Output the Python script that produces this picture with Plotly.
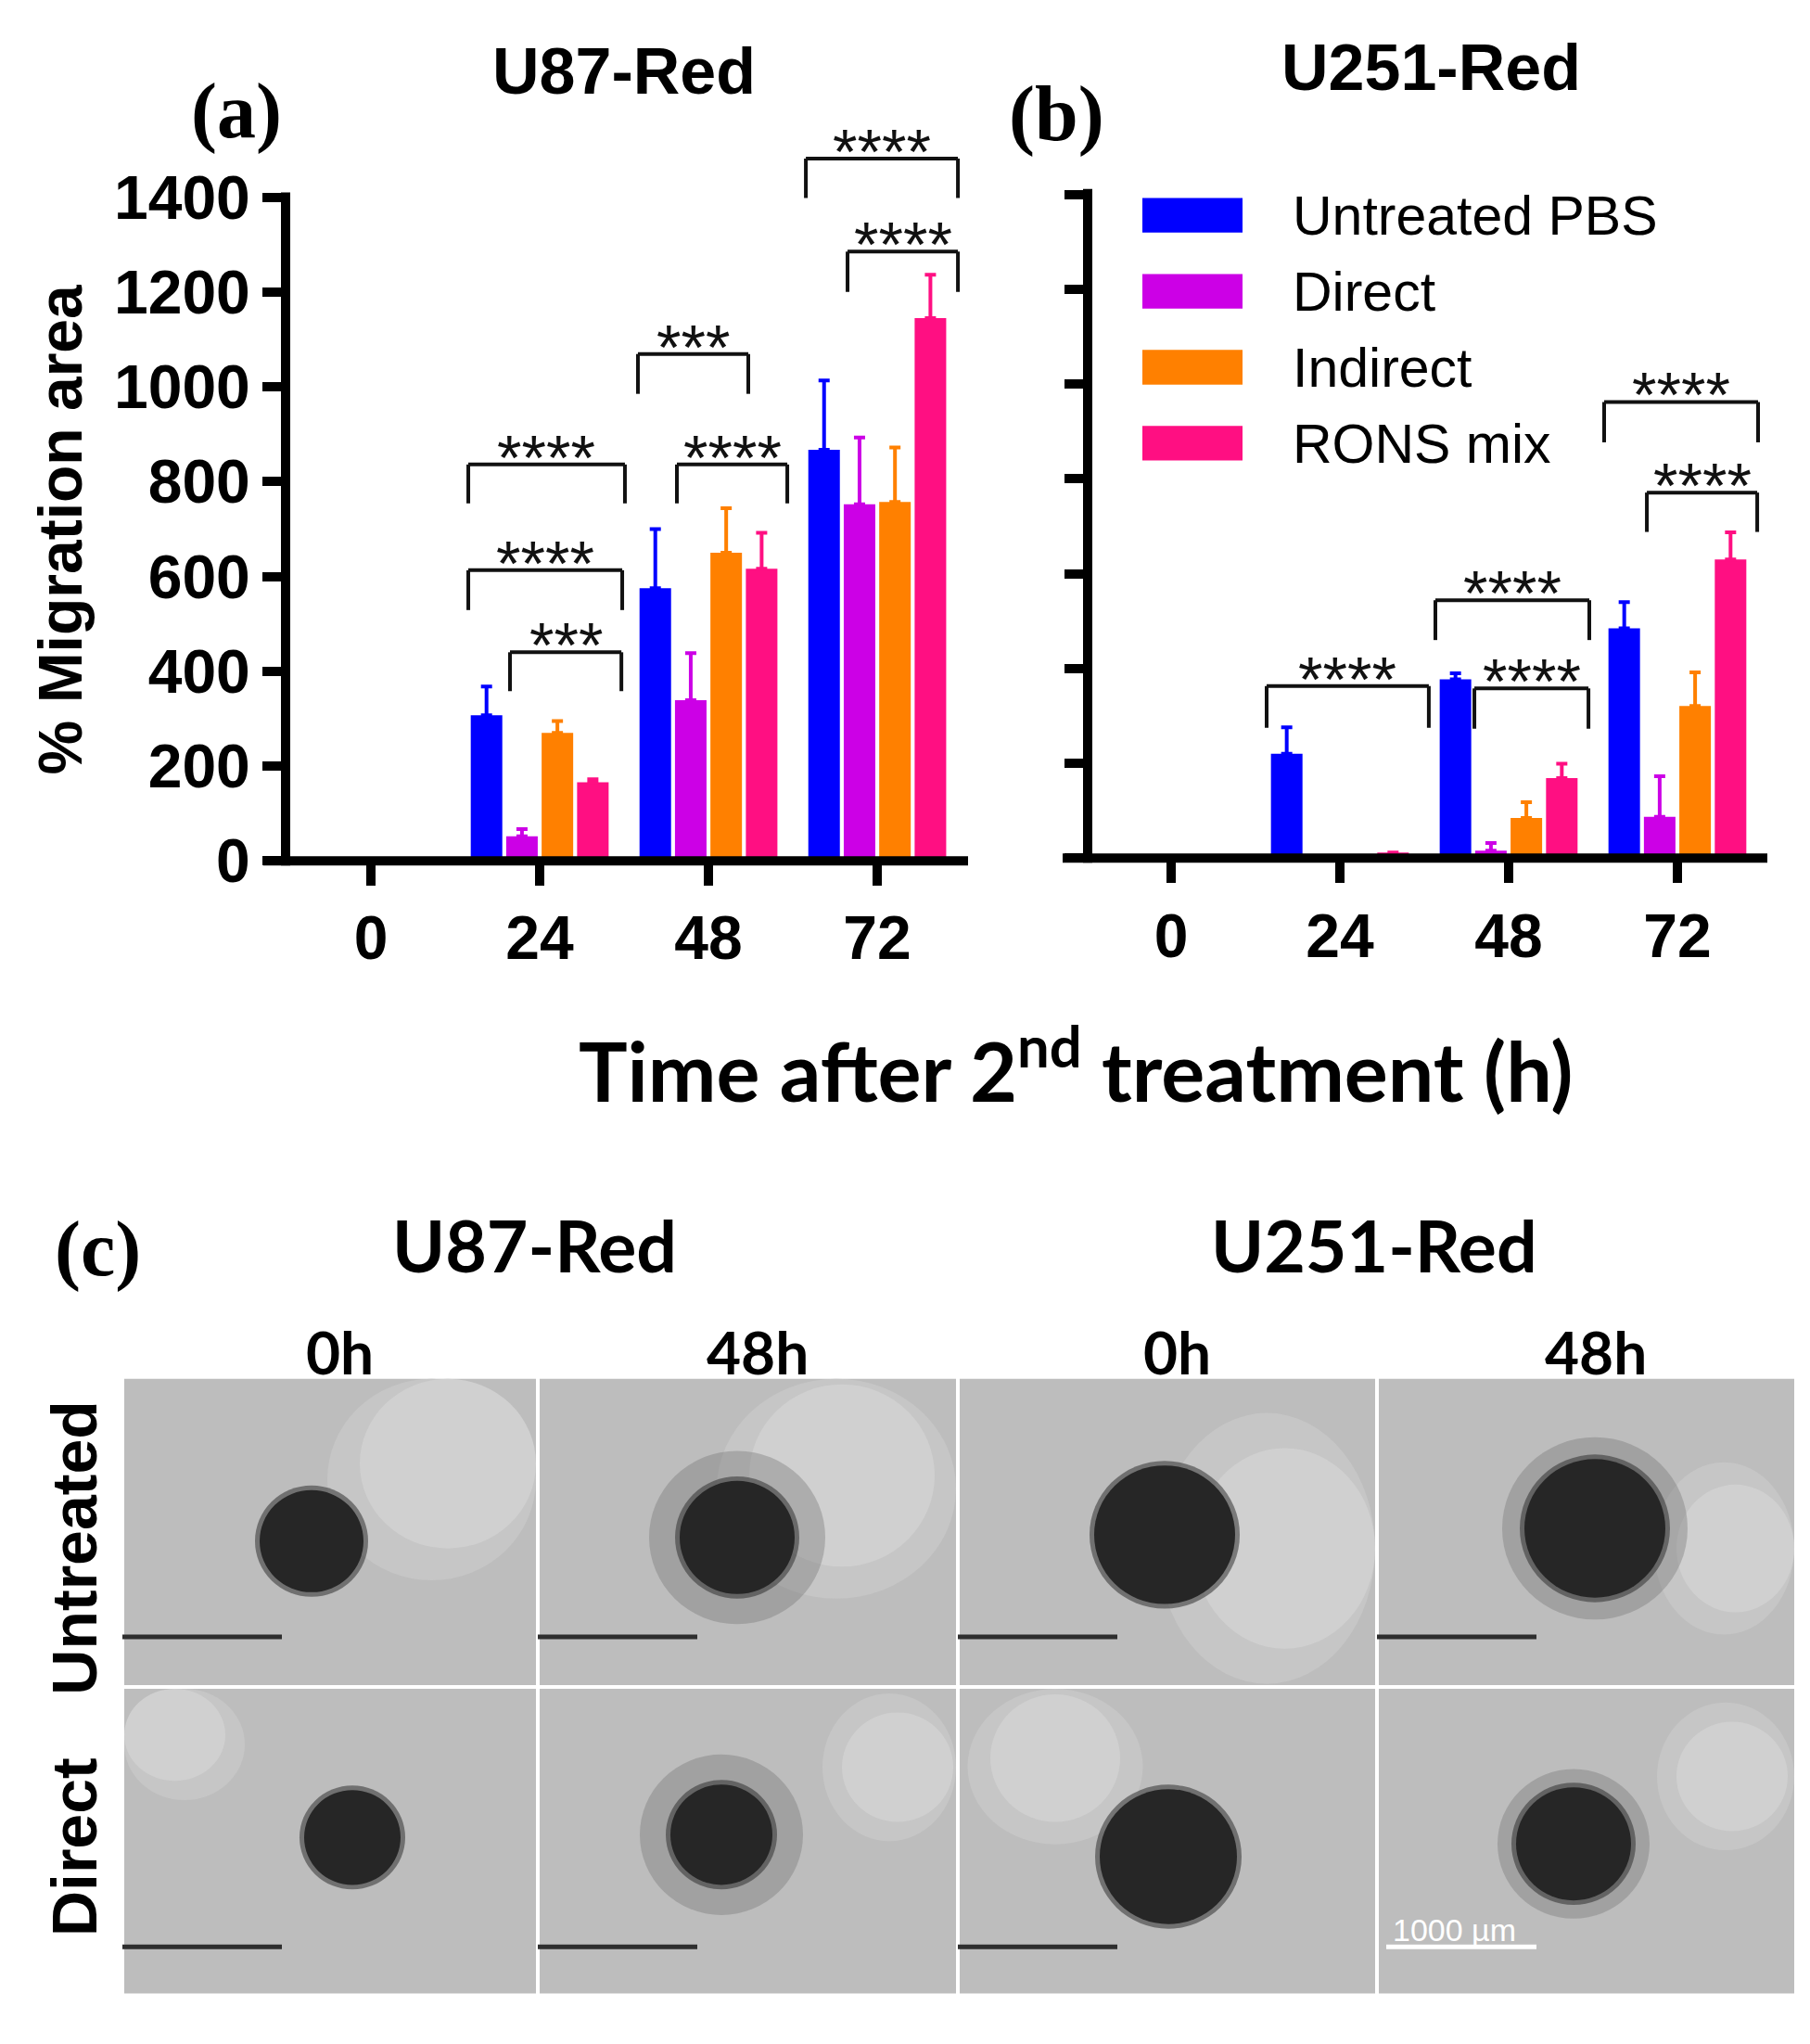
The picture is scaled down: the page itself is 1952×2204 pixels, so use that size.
import plotly.graph_objects as go

W, H = 1952, 2204

# ---- data ----
time_labels = ["0", "24", "48", "72"]
groups = ["Untreated PBS", "Direct", "Indirect", "RONS mix"]
colors = ["#0000ff", "#cc00e6", "#ff8000", "#ff0f82"]

# panel (a) U87-Red: mean and upper SD
u87_mean = {
    "Untreated PBS": [0, 307, 575, 867],
    "Direct": [0, 52, 339, 752],
    "Indirect": [0, 270, 650, 757],
    "RONS mix": [0, 166, 616, 1145],
}
u87_sd = {
    "Untreated PBS": [0, 61, 125, 146],
    "Direct": [0, 15, 99, 141],
    "Indirect": [0, 25, 94, 115],
    "RONS mix": [0, 6, 76, 91],
}
# panel (b) U251-Red
u251_mean = {
    "Untreated PBS": [0, 220, 377, 485],
    "Direct": [0, 2, 16, 87],
    "Indirect": [0, 1, 85, 321],
    "RONS mix": [0, 12, 169, 630],
}
u251_sd = {
    "Untreated PBS": [0, 56, 13, 55],
    "Direct": [0, 0, 16, 86],
    "Indirect": [0, 0, 33, 71],
    "RONS mix": [0, 0, 30, 57],
}

# significance brackets: (x_left, x_right, y_top, y_leg_bottom, label)
u87_brackets = [
    (0.577, 1.505, 836, 754, "****"),
    (0.577, 1.489, 613, 529, "****"),
    (0.824, 1.484, 440, 358, "***"),
    (1.582, 2.236, 1069, 985, "***"),
    (1.813, 2.467, 836, 754, "****"),
    (2.577, 3.478, 1481, 1398, "****"),
    (2.824, 3.478, 1285, 1200, "****"),
]
u251_brackets = [
    (0.566, 1.527, 363, 275, "****"),
    (1.566, 2.478, 544, 460, "****"),
    (1.797, 2.473, 358, 273, "****"),
    (2.566, 3.478, 962, 877, "****"),
    (2.819, 3.473, 771, 688, "****"),
]

y_ticks = [0, 200, 400, 600, 800, 1000, 1200, 1400]


def px(x):
    return x / W


def py(y):
    return 1 - y / H


ARIAL = "Liberation Sans, Arial"
SERIF = "Liberation Serif, Times New Roman"
fig = go.Figure()

xs = list(range(len(time_labels)))
for k, (name, col) in enumerate(zip(groups, colors)):
    for mean, sd, xa, ya in [(u87_mean, u87_sd, "x", "y"), (u251_mean, u251_sd, "x2", "y2")]:
        fig.add_trace(go.Bar(
            x=xs, y=mean[name], name=name, marker_color=col, marker_line_width=0,
            error_y=dict(type="data", array=sd[name], arrayminus=[0] * 4, symmetric=False,
                         color=col, thickness=4, width=6),
            xaxis=xa, yaxis=ya, showlegend=False, offsetgroup=str(k),
        ))

axis_common = dict(showgrid=False, zeroline=False, showline=False, ticks="outside",
                   tickcolor="black", tickwidth=10)
xcommon = dict(axis_common, tickvals=xs, ticktext=time_labels, ticklen=26,
               tickfont=dict(family=ARIAL, size=66, color="black", weight="bold"))
ycommon = dict(axis_common, tickvals=y_ticks, ticklen=24, range=[0, 1560],
               tickfont=dict(family=ARIAL, size=66, color="black", weight="bold"))

fig.update_layout(
    width=W, height=H, margin=dict(l=0, r=0, t=0, b=0),
    paper_bgcolor="white", plot_bgcolor="rgba(0,0,0,0)",
    barmode="group", bargap=0.16, bargroupgap=0.11,
    xaxis=dict(xcommon, domain=[px(300), px(1036)], range=[-0.5055, 3.538], anchor="y"),
    yaxis=dict(ycommon, domain=[py(936), py(936 - 1560 * 0.52)], anchor="x"),
    xaxis2=dict(xcommon, domain=[px(1165), px(1898)], range=[-0.4945, 3.533], anchor="y2"),
    yaxis2=dict(ycommon, domain=[py(933), py(933 - 1560 * 0.52)], anchor="x2",
                showticklabels=False),
)

shapes = []
ann = []

# axis lines (Prism style, x line overhanging the y ticks)
for (xl, xr, xo, yb, yt) in [(300, 1036, 276, 936, 203), (1165, 1898, 1138, 933, 199)]:
    shapes.append(dict(type="line", xref="paper", yref="paper", x0=px(xo), x1=px(xr),
                       y0=py(yb), y1=py(yb), line=dict(color="black", width=10)))
    shapes.append(dict(type="line", xref="paper", yref="paper", x0=px(xl), x1=px(xl),
                       y0=py(yb + 5), y1=py(yt), line=dict(color="black", width=10)))

# significance brackets
for brs, xa, ya in [(u87_brackets, "x", "y"), (u251_brackets, "x2", "y2")]:
    for x0, x1, yt, yb, lab in brs:
        ln = dict(color="#111111", width=4)
        shapes.append(dict(type="line", xref=xa, yref=ya, x0=x0, x1=x0, y0=yb, y1=yt, line=ln))
        shapes.append(dict(type="line", xref=xa, yref=ya, x0=x0, x1=x1, y0=yt, y1=yt, line=ln))
        shapes.append(dict(type="line", xref=xa, yref=ya, x0=x1, x1=x1, y0=yt, y1=yb, line=ln))
        ann.append(dict(x=(x0 + x1) / 2, y=yt, xref=xa, yref=ya, text=lab, showarrow=False,
                        yanchor="middle", yshift=8,
                        font=dict(family=ARIAL, size=68, color="#111111")))

# legend drawn by hand (big swatches)
for i, (name, col) in enumerate(zip(groups, colors)):
    yc = 228 + i * 83.3
    shapes.append(dict(type="rect", xref="paper", yref="paper", x0=px(1224), x1=px(1332),
                       y0=py(yc + 19), y1=py(yc - 19), fillcolor=col, line_width=0))
    ann.append(dict(x=px(1384), y=py(yc + 1), xref="paper", yref="paper", text=name,
                    showarrow=False, xanchor="left", yanchor="middle",
                    font=dict(family=ARIAL, size=59, color="black")))


def text(x, y, s, size, family=ARIAL, bold=True, angle=0, color="black"):
    ann.append(dict(x=px(x), y=py(y), xref="paper", yref="paper", text=s, showarrow=False,
                    xanchor="center", yanchor="middle", textangle=angle,
                    font=dict(family=family, size=size, color=color,
                              weight="bold" if bold else "normal")))


text(665, 70, "U87-Red", 70)
text(1535, 66, "U251-Red", 70)
text(247, 114, "(a)", 84, family=SERIF)
text(1131, 117, "(b)", 84, family=SERIF)
text(57, 573, "% Migration area", 66, angle=-90)
text(1152, 1160, "Time after 2<sup>nd</sup> treatment (h)", 88, family="Lato")

# ---- panel (c): micrograph grid (schematic) ----
text(97, 1362, "(c)", 84, family=SERIF)
text(568, 1357, "U87-Red", 77, family="Lato")
text(1474, 1357, "U251-Red", 77, family="Lato")
col_edges = [124, 572, 1025, 1477, 1929]
row_edges = [1502, 1842, 2180]
for c, lab in enumerate(["0h", "48h", "0h", "48h"]):
    text((col_edges[c] + col_edges[c + 1]) / 2 + 10, 1474, lab, 64, family="Lato")
text(72, 1690, "Untreated", 68, angle=-90)
text(72, 2018, "Direct", 68, angle=-90)

# spheroid sketches: (col, row, cx, cy, r, halo_r, light_cx, light_cy, light_r)
spheroids = [
    (0, 0, 328, 1682, 56, 0, 480, 1590, 100),
    (1, 0, 787, 1678, 62, 95, 900, 1610, 100),
    (2, 0, 1248, 1675, 76, 0, 1390, 1690, 110),
    (3, 0, 1712, 1668, 76, 100, 1870, 1690, 70),
    (0, 1, 372, 2007, 52, 0, 175, 1885, 60),
    (1, 1, 770, 2004, 55, 88, 960, 1930, 60),
    (2, 1, 1252, 2028, 74, 0, 1130, 1920, 70),
    (3, 1, 1689, 2014, 62, 82, 1860, 1940, 60),
]
for c, r, cx, cy, rad, halo, lx, ly, lr in spheroids:
    x0, x1 = col_edges[c] + 2, col_edges[c + 1] - 2
    y0, y1 = row_edges[r] + 2, row_edges[r + 1] - 2
    shapes.append(dict(type="rect", xref="paper", yref="paper", x0=px(x0), x1=px(x1),
                       y0=py(y1), y1=py(y0), fillcolor="#bdbdbd", line_width=0, layer="below"))
    # lighter region of the well, kept inside the tile
    for grow, shade in [(1.35, "#c6c6c6"), (1.0, "#d0d0d0")]:
        rr = lr * grow
        lx0, lx1 = max(lx - rr, x0), min(lx + rr, x1)
        ly0, ly1 = max(ly - rr, y0), min(ly + rr, y1)
        shapes.append(dict(type="circle", xref="paper", yref="paper", x0=px(lx0), x1=px(lx1),
                           y0=py(ly1), y1=py(ly0), fillcolor=shade, line_width=0, layer="below"))
    if halo:
        shapes.append(dict(type="circle", xref="paper", yref="paper", x0=px(cx - halo),
                           x1=px(cx + halo), y0=py(cy + halo), y1=py(cy - halo),
                           fillcolor="rgba(110,110,110,0.35)", line_width=0, layer="below"))
    shapes.append(dict(type="circle", xref="paper", yref="paper", x0=px(cx - rad - 5),
                       x1=px(cx + rad + 5), y0=py(cy + rad + 5), y1=py(cy - rad - 5),
                       fillcolor="rgba(50,50,50,0.55)", line_width=0, layer="below"))
    shapes.append(dict(type="circle", xref="paper", yref="paper", x0=px(cx - rad),
                       x1=px(cx + rad), y0=py(cy + rad), y1=py(cy - rad),
                       fillcolor="#262626", line_width=0, layer="below"))
    # scale bar
    sb_y = row_edges[r] + 285
    last = (c == 3 and r == 1)
    shapes.append(dict(type="line", xref="paper", yref="paper", x0=px(col_edges[c] + (10 if last else 0)),
                       x1=px(col_edges[c] + 172), y0=py(sb_y), y1=py(sb_y),
                       line=dict(color="white" if last else "#2e2e2e", width=5)))
text(1560, 2108, "1000 µm", 34, bold=False, color="white")

fig.update_layout(shapes=shapes, annotations=ann)
fig.write_html("out.html")
